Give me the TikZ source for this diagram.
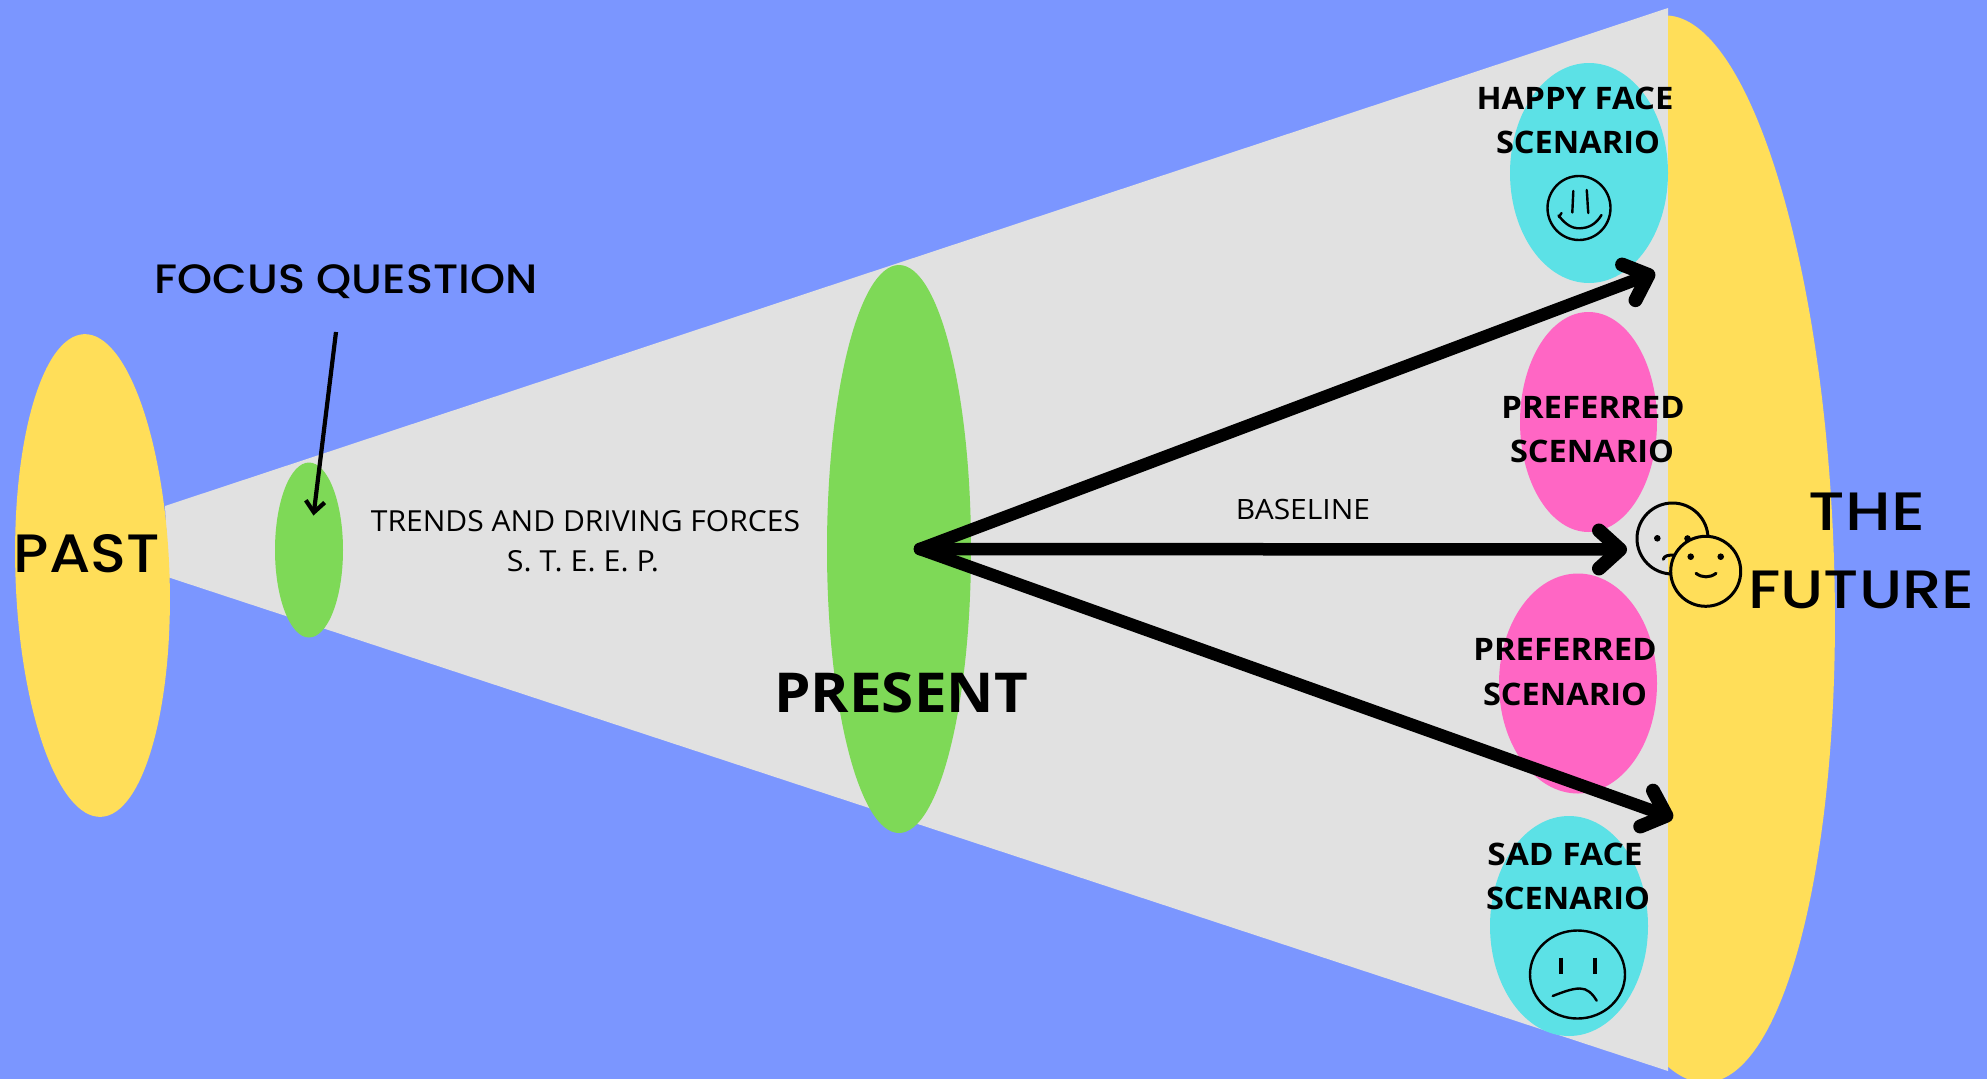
\documentclass[tikz,border=0pt]{standalone}
\usepackage{graphicx}
\usepackage{fontspec}
\usetikzlibrary{shapes.geometric,arrows.meta}
\newfontfamily\labfont{Open Sans}
\newfontfamily\popfont{Poppins Medium}
\newcommand{\hs}[2]{\scalebox{#1}[1]{#2}}
\definecolor{bgblue}{HTML}{7B96FF}
\definecolor{conegray}{HTML}{E1E1E1}
\definecolor{sunyellow}{HTML}{FFDE59}
\definecolor{leafgreen}{HTML}{7ED957}
\definecolor{aqua}{HTML}{5CE1E6}
\definecolor{hotpink}{HTML}{FF66C4}
\tikzset{
  oval/.style={ellipse,inner sep=0pt,outer sep=0pt,draw=none},
  biglabel/.style={anchor=base,inner sep=0pt,font=\popfont\fontsize{54}{54}\selectfont,text=black},
  scenlabel/.style={anchor=base,inner sep=0pt,font=\labfont\bfseries\fontsize{31}{31}\selectfont,text=black},
  thinlabel/.style={anchor=base,inner sep=0pt,font=\labfont\fontsize{29}{29}\selectfont,text=black},
  bigarrow/.style={line width=12.5pt,-{Straight Barb[length=21pt,width=38pt,line width=14pt,round]},line cap=round},
  facestroke/.style={draw=black,line width=2.4pt,line cap=round,line join=round},
}
\begin{document}
\begin{tikzpicture}[x=1pt,y=-1pt]
\useasboundingbox (0,0) rectangle (1987,1079);
\fill[bgblue] (0,0) rectangle (1987,1079);
% cone
\fill[conegray] (165,506) -- (1668,8) -- (1668,1071) -- (169,577.5) -- cycle;
% future
\begin{scope}
\clip (1668,0) rectangle (1987,1079);
\node[oval,fill=sunyellow,minimum width=297pt,minimum height=1068pt,rotate=2.3] (future) at (1685,549) {};
\end{scope}
% ellipses
\node[oval,fill=sunyellow,minimum width=154pt,minimum height=483pt,rotate=2] (past) at (92.5,575.5) {};
\node[oval,fill=leafgreen,minimum width=68pt,minimum height=175pt] (focus) at (309,550) {};
\node[oval,fill=leafgreen,minimum width=144pt,minimum height=568pt] (present) at (899,549) {};
\node[oval,fill=aqua,minimum width=158pt,minimum height=220pt] (happy) at (1589,173) {};
\node[oval,fill=hotpink,minimum width=137pt,minimum height=220pt] (prefa) at (1588.5,422) {};
\node[oval,fill=hotpink,minimum width=158pt,minimum height=220pt] (prefb) at (1578,683.5) {};
\node[oval,fill=aqua,minimum width=158pt,minimum height=220pt] (sad) at (1569,926) {};
% labels
\node[biglabel] (pastlabel) at (87,572) {\hs{1.1}{PAST}};
\node[biglabel,font=\popfont\fontsize{41}{41}\selectfont] (focuslabel) at (346,293) {\hs{1.09}{FOCUS QUESTION}};
\node[thinlabel] (trends) at (585.5,531.5) {\hs{1.036}{TRENDS AND DRIVING FORCES}};
\node[thinlabel] (steep) at (583,571) {\hs{1.05}{S. T. E. E. P.}};
\node[scenlabel,font=\labfont\bfseries\fontsize{55}{55}\selectfont] (presentlabel) at (901,712.5) {\hs{1.06}{PRESENT}};
\node[thinlabel,font=\labfont\fontsize{28}{28}\selectfont] (baseline) at (1303,519.5) {\hs{1.07}{BASELINE}};
\node[biglabel] (thelabel) at (1867,530) {\hs{1.2}{THE}};
\node[biglabel] (futurelabel) at (1861.5,608) {\hs{1.16}{FUTURE}};
\node[scenlabel] (happya) at (1575,109.5) {\hs{1.06}{HAPPY FACE}};
\node[scenlabel] (happyb) at (1578,153.5) {\hs{1.05}{SCENARIO}};
\node[scenlabel] (prefaa) at (1593,418) {\hs{1.06}{PREFERRED}};
\node[scenlabel] (prefab) at (1592,462) {\hs{1.05}{SCENARIO}};
\node[scenlabel] (prefba) at (1565,660) {\hs{1.06}{PREFERRED}};
\node[scenlabel] (prefbb) at (1565,705) {\hs{1.05}{SCENARIO}};
\node[scenlabel] (sada) at (1565,865) {\hs{1.08}{SAD FACE}};
\node[scenlabel] (sadb) at (1568,909.5) {\hs{1.05}{SCENARIO}};
% connectors
\coordinate (origin) at (920,549);
\coordinate (tipup) at (1655,272.5);
\coordinate (tipmid) at (1627,549.5);
\coordinate (tipdown) at (1673,818);
\coordinate (focusstart) at (336,332);
\coordinate (focustip) at (313.5,515.5);
\draw[bigarrow] (origin) -- (tipup);
\draw[bigarrow] (origin) -- (tipmid);
\draw[bigarrow] (origin) -- (tipdown);
\draw[line width=4.2pt,-{Straight Barb[length=11pt,width=19pt]}] (focusstart) -- (focustip);
% happy face
\draw[facestroke] (1579,208) circle [x radius=31.5,y radius=32];
\draw[facestroke] (1573.3,191) -- (1572.3,212.5);
\draw[facestroke] (1586.7,190) .. controls (1587.5,198) and (1587.5,205) .. (1588.3,213);
\draw[facestroke] (1558.5,215.5) .. controls (1566,225) and (1572,228.5) .. (1580,228.3) .. controls (1589,228) and (1596,224) .. (1601.5,215);
\draw[facestroke] (1561.5,213) -- (1559,217);
% sad face
\draw[facestroke] (1577.5,974.5) circle [x radius=47.5,y radius=44];
\draw[draw=black,line width=4.2pt] (1561,957.5) -- (1561,973.5);
\draw[draw=black,line width=4.2pt] (1595,957.5) -- (1595,973.5);
\draw[facestroke] (1552.7,996) .. controls (1563,992) and (1572,988.5) .. (1580,988.5) .. controls (1587,988.5) and (1592,993) .. (1596.7,1000.7);
% crowd faces
\draw[facestroke,line width=3pt] (1672.5,538.5) circle [radius=35.5];
\fill[black] (1657.3,538.3) circle [radius=3.3];
\fill[black] (1687.5,538.5) circle [radius=3.3];
\draw[facestroke,line width=3pt] (1663.3,559.3) .. controls (1664,555.5) and (1669,555) .. (1674,555);
\draw[facestroke,line width=3pt,fill=sunyellow] (1705.7,571.3) circle [radius=35];
\fill[black] (1690.7,556.7) circle [radius=3.3];
\fill[black] (1720.7,556.7) circle [radius=3.3];
\draw[facestroke,line width=3pt] (1696,573.3) .. controls (1702,578) and (1710,578) .. (1716,573.3);
\end{tikzpicture}
\end{document}
